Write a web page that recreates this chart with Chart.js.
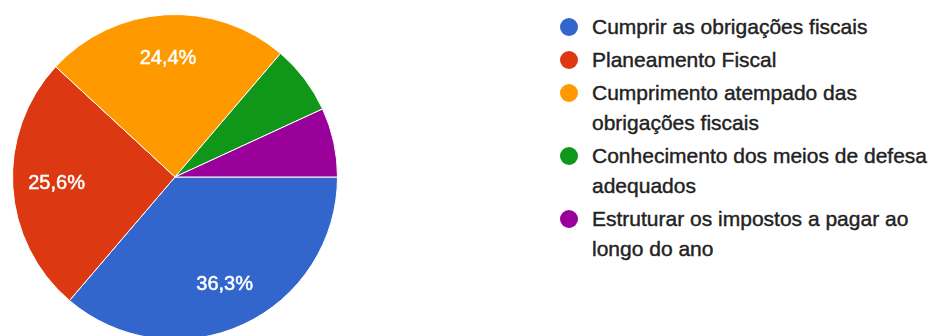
<!DOCTYPE html>
<html>
<head>
<meta charset="utf-8">
<script src="https://cdn.jsdelivr.net/npm/chart.js@4/dist/chart.umd.min.js"></script>
<style>
  html, body { margin: 0; padding: 0; background: #fff; overflow: hidden; width: 938px; height: 336px; }
  #pie-wrap { position: absolute; left: 0; top: 0; width: 350px; height: 354px; }
  #legend { position: absolute; left: 559px; top: 12px; font-family: "Liberation Sans", Arial, sans-serif; font-size: 21px; color: #222; -webkit-text-stroke: 0.4px #222; }
  #legend .item { position: relative; padding-left: 33px; line-height: 30px; margin-bottom: 3px; white-space: nowrap; }
  #legend .dot { position: absolute; left: 1px; top: 6px; width: 18px; height: 18px; border-radius: 50%; }
</style>
</head>
<body>
<div id="pie-wrap"><canvas id="pie"></canvas></div>
<div id="legend"></div>
<script>
const categories = [
  "Cumprir as obrigações fiscais",
  "Planeamento Fiscal",
  ["Cumprimento atempado das", "obrigações fiscais"],
  ["Conhecimento dos meios de defesa", "adequados"],
  ["Estruturar os impostos a pagar ao", "longo do ano"]
];
const responses = [58, 41, 39, 11, 11];
const colors = ["#3366cc", "#dc3912", "#ff9900", "#109618", "#990099"];

const pctText = v => (v / responses.reduce((a, b) => a + b, 0) * 100).toFixed(1).replace(".", ",") + "%";

const sliceLabels = {
  id: "sliceLabels",
  afterDatasetsDraw(chart) {
    const { ctx } = chart;
    const meta = chart.getDatasetMeta(0);
    ctx.save();
    ctx.fillStyle = "#fff";
    ctx.strokeStyle = "#fff";
    ctx.lineWidth = 0.5;
    ctx.font = "20px 'Liberation Sans', Arial, sans-serif";
    ctx.textAlign = "center";
    ctx.textBaseline = "middle";
    meta.data.forEach((arc, i) => {
      const share = responses[i] / responses.reduce((a, b) => a + b, 0);
      if (share < 0.1) return;
      const { x, y, startAngle, endAngle, outerRadius } = arc.getProps(["x", "y", "startAngle", "endAngle", "outerRadius"], true);
      const mid = (startAngle + endAngle) / 2;
      const r = outerRadius * 0.73;
      const tx = x + Math.cos(mid) * r, ty = y + Math.sin(mid) * r;
      ctx.fillText(pctText(responses[i]), tx, ty);
      ctx.strokeText(pctText(responses[i]), tx, ty);
    });
    ctx.restore();
  }
};

const chart = new Chart(document.getElementById("pie"), {
  type: "pie",
  data: {
    labels: categories,
    datasets: [{ data: responses, backgroundColor: colors, borderColor: "#fff", borderWidth: 1 }]
  },
  options: {
    responsive: true,
    maintainAspectRatio: false,
    animation: false,
    rotation: 90,
    layout: { padding: { left: 12, right: 12, top: 14, bottom: 14 } },
    plugins: { legend: { display: false }, tooltip: { enabled: false } }
  },
  plugins: [sliceLabels]
});

document.getElementById("legend").innerHTML = chart.data.labels.map((label, i) => {
  const text = Array.isArray(label) ? label.join("<br>") : label;
  return `<div class="item"><span class="dot" style="background:${colors[i]}"></span>${text}</div>`;
}).join("");
</script>
</body>
</html>
